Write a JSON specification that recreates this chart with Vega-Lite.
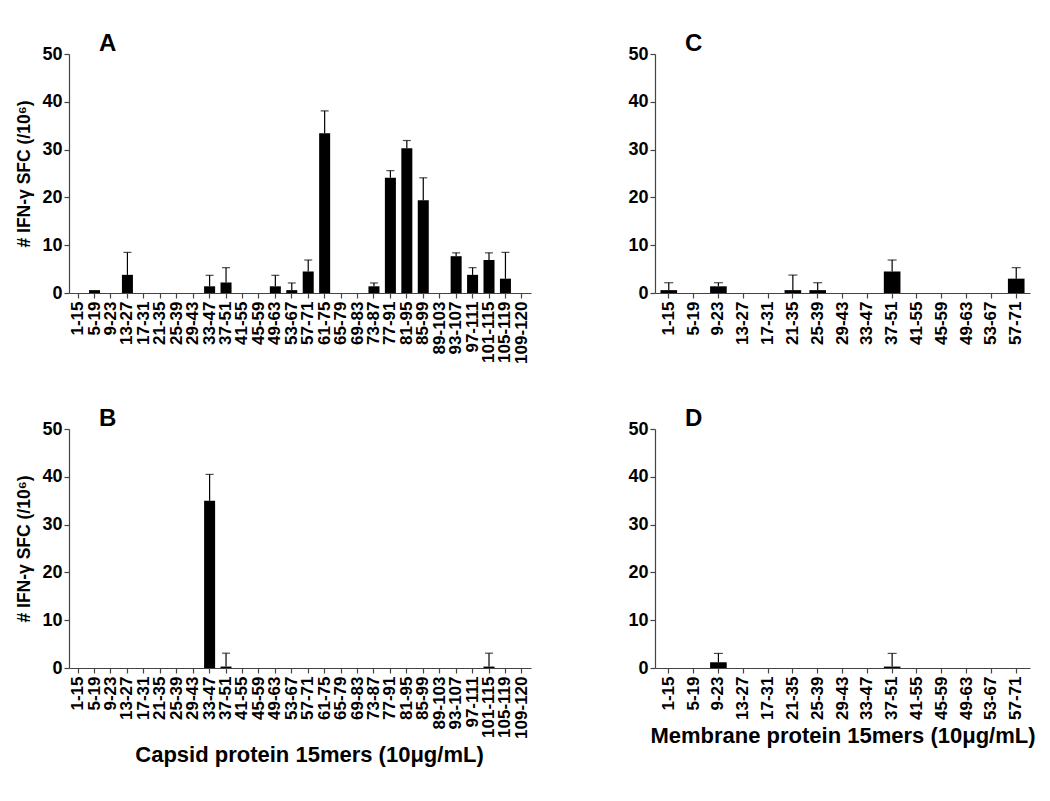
{
  "$schema": "https://vega.github.io/schema/vega-lite/v6.json",
  "background": "white",
  "padding": {"left": 15, "top": 32, "right": 2, "bottom": 2},
  "config": {
    "view": {"stroke": null},
    "font": "Liberation Sans",
    "axis": {"labelFont": "Liberation Sans", "titleFont": "Liberation Sans", "labelFontWeight": "bold", "titleFontWeight": "bold", "labelColor": "black", "titleColor": "black", "domainColor": "#444", "tickColor": "#444", "domainWidth": 1.2, "tickWidth": 1.2, "tickSize": 5, "grid": false},
    "title": {"font": "Liberation Sans", "fontWeight": "bold", "fontSize": 24, "anchor": "start", "frame": "group", "dx": 30, "offset": -11, "color": "black"}
  },
  "datasets": {
    "d": [
      {"panel": "A", "pep": "1-15", "v": 0},
      {"panel": "A", "pep": "5-19", "v": 0.6},
      {"panel": "A", "pep": "9-23", "v": 0},
      {"panel": "A", "pep": "13-27", "v": 3.8, "hi": 8.5},
      {"panel": "A", "pep": "17-31", "v": 0},
      {"panel": "A", "pep": "21-35", "v": 0},
      {"panel": "A", "pep": "25-39", "v": 0},
      {"panel": "A", "pep": "29-43", "v": 0},
      {"panel": "A", "pep": "33-47", "v": 1.4, "hi": 3.7},
      {"panel": "A", "pep": "37-51", "v": 2.2, "hi": 5.3},
      {"panel": "A", "pep": "41-55", "v": 0},
      {"panel": "A", "pep": "45-59", "v": 0},
      {"panel": "A", "pep": "49-63", "v": 1.4, "hi": 3.7},
      {"panel": "A", "pep": "53-67", "v": 0.6, "hi": 2.1},
      {"panel": "A", "pep": "57-71", "v": 4.5, "hi": 6.9},
      {"panel": "A", "pep": "61-75", "v": 33.4, "hi": 38.1},
      {"panel": "A", "pep": "65-79", "v": 0},
      {"panel": "A", "pep": "69-83", "v": 0},
      {"panel": "A", "pep": "73-87", "v": 1.4, "hi": 2.1},
      {"panel": "A", "pep": "77-91", "v": 24.1, "hi": 25.6},
      {"panel": "A", "pep": "81-95", "v": 30.3, "hi": 31.9},
      {"panel": "A", "pep": "85-99", "v": 19.4, "hi": 24.1},
      {"panel": "A", "pep": "89-103", "v": 0},
      {"panel": "A", "pep": "93-107", "v": 7.7, "hi": 8.4},
      {"panel": "A", "pep": "97-111", "v": 3.8, "hi": 5.3},
      {"panel": "A", "pep": "101-115", "v": 6.9, "hi": 8.4},
      {"panel": "A", "pep": "105-119", "v": 3.0, "hi": 8.5},
      {"panel": "A", "pep": "109-120", "v": 0},
      {"panel": "B", "pep": "1-15", "v": 0},
      {"panel": "B", "pep": "5-19", "v": 0},
      {"panel": "B", "pep": "9-23", "v": 0},
      {"panel": "B", "pep": "13-27", "v": 0},
      {"panel": "B", "pep": "17-31", "v": 0},
      {"panel": "B", "pep": "21-35", "v": 0},
      {"panel": "B", "pep": "25-39", "v": 0},
      {"panel": "B", "pep": "29-43", "v": 0},
      {"panel": "B", "pep": "33-47", "v": 35.0, "hi": 40.5},
      {"panel": "B", "pep": "37-51", "v": 0.3, "hi": 3.1},
      {"panel": "B", "pep": "41-55", "v": 0},
      {"panel": "B", "pep": "45-59", "v": 0},
      {"panel": "B", "pep": "49-63", "v": 0},
      {"panel": "B", "pep": "53-67", "v": 0},
      {"panel": "B", "pep": "57-71", "v": 0},
      {"panel": "B", "pep": "61-75", "v": 0},
      {"panel": "B", "pep": "65-79", "v": 0},
      {"panel": "B", "pep": "69-83", "v": 0},
      {"panel": "B", "pep": "73-87", "v": 0},
      {"panel": "B", "pep": "77-91", "v": 0},
      {"panel": "B", "pep": "81-95", "v": 0},
      {"panel": "B", "pep": "85-99", "v": 0},
      {"panel": "B", "pep": "89-103", "v": 0},
      {"panel": "B", "pep": "93-107", "v": 0},
      {"panel": "B", "pep": "97-111", "v": 0},
      {"panel": "B", "pep": "101-115", "v": 0.3, "hi": 3.1},
      {"panel": "B", "pep": "105-119", "v": 0},
      {"panel": "B", "pep": "109-120", "v": 0},
      {"panel": "C", "pep": "1-15", "v": 0.6, "hi": 2.15},
      {"panel": "C", "pep": "5-19", "v": 0},
      {"panel": "C", "pep": "9-23", "v": 1.4, "hi": 2.15},
      {"panel": "C", "pep": "13-27", "v": 0},
      {"panel": "C", "pep": "17-31", "v": 0},
      {"panel": "C", "pep": "21-35", "v": 0.6, "hi": 3.75},
      {"panel": "C", "pep": "25-39", "v": 0.6, "hi": 2.15},
      {"panel": "C", "pep": "29-43", "v": 0},
      {"panel": "C", "pep": "33-47", "v": 0},
      {"panel": "C", "pep": "37-51", "v": 4.5, "hi": 6.9},
      {"panel": "C", "pep": "41-55", "v": 0},
      {"panel": "C", "pep": "45-59", "v": 0},
      {"panel": "C", "pep": "49-63", "v": 0},
      {"panel": "C", "pep": "53-67", "v": 0},
      {"panel": "C", "pep": "57-71", "v": 3.0, "hi": 5.3},
      {"panel": "D", "pep": "1-15", "v": 0},
      {"panel": "D", "pep": "5-19", "v": 0},
      {"panel": "D", "pep": "9-23", "v": 1.2, "hi": 3.05},
      {"panel": "D", "pep": "13-27", "v": 0},
      {"panel": "D", "pep": "17-31", "v": 0},
      {"panel": "D", "pep": "21-35", "v": 0},
      {"panel": "D", "pep": "25-39", "v": 0},
      {"panel": "D", "pep": "29-43", "v": 0},
      {"panel": "D", "pep": "33-47", "v": 0},
      {"panel": "D", "pep": "37-51", "v": 0.3, "hi": 3.05},
      {"panel": "D", "pep": "41-55", "v": 0},
      {"panel": "D", "pep": "45-59", "v": 0},
      {"panel": "D", "pep": "49-63", "v": 0},
      {"panel": "D", "pep": "53-67", "v": 0},
      {"panel": "D", "pep": "57-71", "v": 0}
    ]
  },
  "data": {"name": "d"},
  "spacing": 43,
  "vconcat": [
    {
      "spacing": 96,
      "hconcat": [
        {
          "title": {"text": "A"},
          "width": 462, "height": 239,
          "transform": [{"filter": "datum.panel === 'A'"}],
          "layer": [
            {"mark": {"type": "bar", "color": "black"},
             "encoding": {
               "x": {"field": "pep", "type": "nominal", "sort": null, "scale": {"paddingInner": 0.33, "paddingOuter": 0.22}, "axis": {"title": null, "labelAngle": -90, "labelFontSize": 17, "labelPadding": 3}},
               "y": {"field": "v", "type": "quantitative", "scale": {"domain": [0, 50]}, "axis": {"values": [0, 10, 20, 30, 40, 50], "labelFontSize": 18, "labelPadding": 2, "title": "# IFN-γ SFC (/10⁶)", "titleFontSize": 17.5, "titlePadding": 8}}}},
            {"transform": [{"filter": "isValid(datum.hi)"}],
             "mark": {"type": "rule", "color": "black", "strokeWidth": 1.2},
             "encoding": {"x": {"field": "pep", "type": "nominal", "sort": null}, "y": {"field": "v", "type": "quantitative"}, "y2": {"field": "hi"}}},
            {"transform": [{"filter": "isValid(datum.hi)"}],
             "mark": {"type": "tick", "orient": "horizontal", "color": "black", "size": 8, "thickness": 1.2},
             "encoding": {"x": {"field": "pep", "type": "nominal", "sort": null}, "y": {"field": "hi", "type": "quantitative"}}}
          ]
        },
        {
          "title": {"text": "C"},
          "width": 375, "height": 239,
          "transform": [{"filter": "datum.panel === 'C'"}],
          "layer": [
            {"mark": {"type": "bar", "color": "black"},
             "encoding": {
               "x": {"field": "pep", "type": "nominal", "sort": null, "scale": {"paddingInner": 0.33, "paddingOuter": 0.22}, "axis": {"title": null, "labelAngle": -90, "labelFontSize": 17, "labelPadding": 3}},
               "y": {"field": "v", "type": "quantitative", "scale": {"domain": [0, 50]}, "axis": {"values": [0, 10, 20, 30, 40, 50], "labelFontSize": 18, "labelPadding": 2, "title": null}}}},
            {"transform": [{"filter": "isValid(datum.hi)"}],
             "mark": {"type": "rule", "color": "black", "strokeWidth": 1.2},
             "encoding": {"x": {"field": "pep", "type": "nominal", "sort": null}, "y": {"field": "v", "type": "quantitative"}, "y2": {"field": "hi"}}},
            {"transform": [{"filter": "isValid(datum.hi)"}],
             "mark": {"type": "tick", "orient": "horizontal", "color": "black", "size": 9, "thickness": 1.2},
             "encoding": {"x": {"field": "pep", "type": "nominal", "sort": null}, "y": {"field": "hi", "type": "quantitative"}}}
          ]
        }
      ]
    },
    {
      "spacing": 96,
      "hconcat": [
        {
          "title": {"text": "B"},
          "width": 462, "height": 239,
          "transform": [{"filter": "datum.panel === 'B'"}],
          "layer": [
            {"mark": {"type": "bar", "color": "black"},
             "encoding": {
               "x": {"field": "pep", "type": "nominal", "sort": null, "scale": {"paddingInner": 0.33, "paddingOuter": 0.22}, "axis": {"title": "Capsid protein 15mers (10μg/mL)", "titleFontSize": 22, "titlePadding": 6, "titleX": 240, "labelAngle": -90, "labelFontSize": 17, "labelPadding": 3}},
               "y": {"field": "v", "type": "quantitative", "scale": {"domain": [0, 50]}, "axis": {"values": [0, 10, 20, 30, 40, 50], "labelFontSize": 18, "labelPadding": 2, "title": "# IFN-γ SFC (/10⁶)", "titleFontSize": 17.5, "titlePadding": 8}}}},
            {"transform": [{"filter": "isValid(datum.hi)"}],
             "mark": {"type": "rule", "color": "black", "strokeWidth": 1.2},
             "encoding": {"x": {"field": "pep", "type": "nominal", "sort": null}, "y": {"field": "v", "type": "quantitative"}, "y2": {"field": "hi"}}},
            {"transform": [{"filter": "isValid(datum.hi)"}],
             "mark": {"type": "tick", "orient": "horizontal", "color": "black", "size": 8, "thickness": 1.2},
             "encoding": {"x": {"field": "pep", "type": "nominal", "sort": null}, "y": {"field": "hi", "type": "quantitative"}}}
          ]
        },
        {
          "title": {"text": "D"},
          "width": 375, "height": 239,
          "transform": [{"filter": "datum.panel === 'D'"}],
          "layer": [
            {"mark": {"type": "bar", "color": "black"},
             "encoding": {
               "x": {"field": "pep", "type": "nominal", "sort": null, "scale": {"paddingInner": 0.33, "paddingOuter": 0.22}, "axis": {"title": "Membrane protein 15mers (10μg/mL)", "titleFontSize": 22, "titlePadding": 6, "labelAngle": -90, "labelFontSize": 17, "labelPadding": 3}},
               "y": {"field": "v", "type": "quantitative", "scale": {"domain": [0, 50]}, "axis": {"values": [0, 10, 20, 30, 40, 50], "labelFontSize": 18, "labelPadding": 2, "title": null}}}},
            {"transform": [{"filter": "isValid(datum.hi)"}],
             "mark": {"type": "rule", "color": "black", "strokeWidth": 1.2},
             "encoding": {"x": {"field": "pep", "type": "nominal", "sort": null}, "y": {"field": "v", "type": "quantitative"}, "y2": {"field": "hi"}}},
            {"transform": [{"filter": "isValid(datum.hi)"}],
             "mark": {"type": "tick", "orient": "horizontal", "color": "black", "size": 9, "thickness": 1.2},
             "encoding": {"x": {"field": "pep", "type": "nominal", "sort": null}, "y": {"field": "hi", "type": "quantitative"}}}
          ]
        }
      ]
    }
  ]
}
